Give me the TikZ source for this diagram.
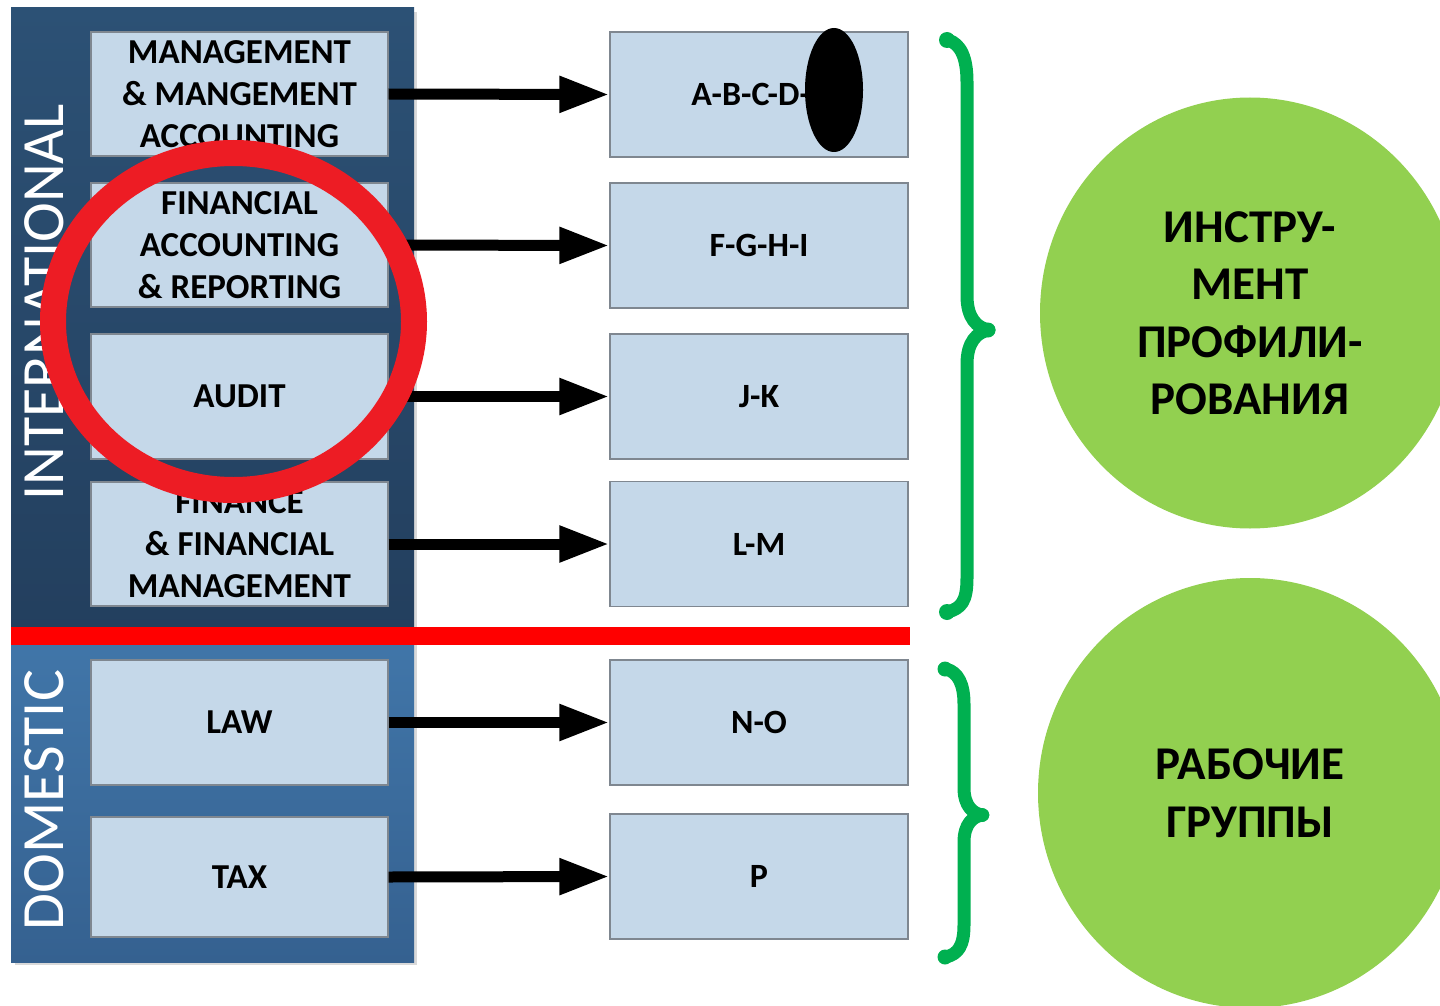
\documentclass[tikz,border=0pt]{standalone}
\usepackage{fontspec}
\setmainfont{Carlito}
\usetikzlibrary{arrows.meta,shapes.geometric}
\definecolor{intTop}{HTML}{2C5175}
\definecolor{intBot}{HTML}{233F5E}
\definecolor{domTop}{HTML}{4176A9}
\definecolor{domBot}{HTML}{356190}
\definecolor{boxFill}{HTML}{C5D8E9}
\definecolor{boxLine}{HTML}{7F8790}
\definecolor{ringRed}{HTML}{ED1C24}
\definecolor{divRed}{HTML}{FF0000}
\definecolor{braceGreen}{HTML}{00B050}
\definecolor{circGreen}{HTML}{92D050}
\definecolor{shadowGray}{HTML}{D9D9D9}
\tikzset{
  topicbox/.style={draw=boxLine, line width=1.2pt, fill=boxFill, inner sep=0pt,
    minimum width=297pt, minimum height=124pt, align=center,
    font=\bfseries\fontsize{35}{42}\selectfont},
  groupbox/.style={topicbox, minimum width=298pt, minimum height=125pt,
    font=\bfseries\fontsize{34}{42}\selectfont},
  flow/.style={line width=11pt, -{Triangle[length=50pt,width=34pt]}},
  brace/.style={draw=braceGreen, line width=13pt, line cap=round, line join=round},
  bulb/.style={fill=braceGreen},
  sidelabel/.style={text=white, rotate=90, anchor=base, font=\fontsize{60}{62}\selectfont},
  blob/.style={ellipse, fill=circGreen, inner sep=0pt, align=center,
    font=\bfseries\fontsize{47}{57.5}\selectfont}
}
\begin{document}
\begin{tikzpicture}[x=1pt, y=-1pt]
\useasboundingbox (0,0) rectangle (1440,1006);
\clip (0,0) rectangle (1440,1006);
% panels
\fill[shadowGray] (15,12) rectangle (417,965);
\shade[top color=intTop, bottom color=intBot] (11,8) rectangle (414,636);
\shade[top color=domTop, bottom color=domBot] (11,636) rectangle (414,962);
\node[sidelabel] (intl) at (63,302.5) {INTERNATIONAL};
\node[sidelabel] (dom) at (63,800) {DOMESTIC};
% left boxes
\node[topicbox] (l1) at (239.5,94) {MANAGEMENT\\\& MANGEMENT\\ACCOUNTING};
\node[topicbox] (l2) at (239.5,245) {FINANCIAL\\ACCOUNTING\\\& REPORTING};
\node[topicbox, minimum height=125pt] (l3) at (239.5,396.5) {AUDIT};
\node[topicbox] (l4) at (239.5,544) {FINANCE\\\& FINANCIAL\\MANAGEMENT};
\node[topicbox, minimum height=125pt] (l5) at (239.5,722.5) {LAW};
\node[topicbox, minimum height=120pt] (l6) at (239.5,877) {TAX};
% right boxes
\node[groupbox] (r1) at (759,94.5) {A-B-C-D-\phantom{E}};
\node[groupbox] (r2) at (759,245.5) {F-G-H-I};
\node[groupbox] (r3) at (759,396.5) {J-K};
\node[groupbox] (r4) at (759,544) {L-M};
\node[groupbox] (r5) at (759,722.5) {N-O};
\node[groupbox] (r6) at (759,876.5) {P};
% arrows
\draw[flow] (l1.east) -- (r1.west);
\draw[flow] (l2.east) -- (r2.west);
\draw[flow] (l3.east) -- (r3.west);
\draw[flow] (l4.east) -- (r4.west);
\draw[flow] (l5.east) -- (r5.west);
\draw[flow] (l6.east) -- (r6.west);
% divider
\fill[divRed] (11,627) rectangle (910,645);
% ring and blot
\draw[ringRed, line width=26pt] (233.5,321.5) ellipse [x radius=180.5, y radius=168.5];
\fill[black] (834,90) ellipse [x radius=29, y radius=62];
% braces
\draw[brace] (948,40) .. controls (961,44) and (967,58) .. (967,82) -- (967,296)
  .. controls (967,318) and (977,328) .. (989,330)
  .. controls (977,332) and (967,342) .. (967,364) -- (967,578)
  .. controls (967,602) and (961,608) .. (948,612);
\fill[bulb] (947,40) circle (8);
\fill[bulb] (947,612) circle (8);
\fill[bulb] (988,330) circle (7.5);
\draw[brace] (946,669) .. controls (958,672) and (964,684) .. (964,704) -- (964,788)
  .. controls (964,806) and (973,814) .. (983,815)
  .. controls (973,816) and (964,824) .. (964,842) -- (964,925)
  .. controls (964,946) and (958,954) .. (946,957);
\fill[bulb] (945,669) circle (7.5);
\fill[bulb] (945,957) circle (7.5);
\fill[bulb] (982,815) circle (7);
% circles
\node[blob, minimum width=420pt, minimum height=431pt] (c1) at (1250,313)
  {ИНСТРУ-\\МЕНТ\\ПРОФИЛИ-\\РОВАНИЯ};
\node[blob, minimum width=424pt, minimum height=430pt] (c2) at (1250,793)
  {РАБОЧИЕ\\ГРУППЫ};
\end{tikzpicture}
\end{document}
